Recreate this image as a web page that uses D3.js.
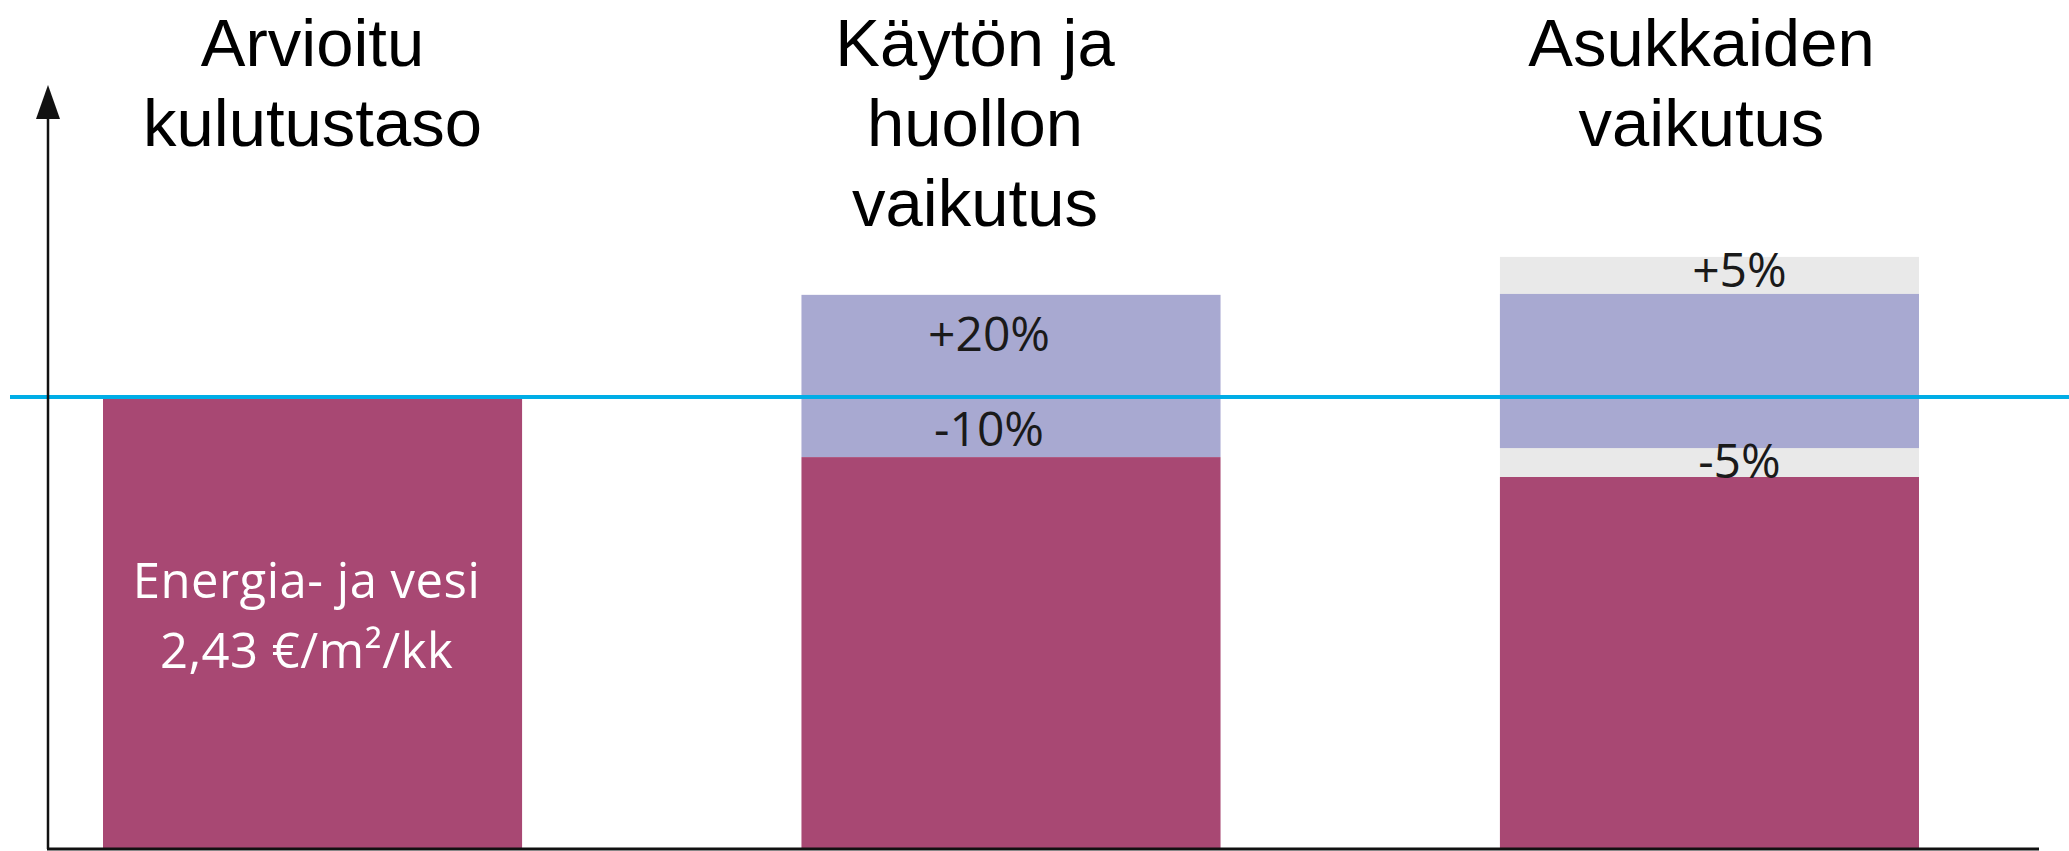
<!DOCTYPE html>
<html>
<head>
<meta charset="utf-8">
<script src="https://cdn.jsdelivr.net/npm/d3@7"></script>
<style>
    html, body {margin: 0; padding: 0; background: #fff;}
    svg {display: block;}
    .title {font-family: "Liberation Sans", Arial, sans-serif; font-size: 67px; fill: #000;}
    .pct {font-family: "Open Sans", sans-serif; font-size: 48px; fill: #1a1a1a;}
    .inner {font-family: "Open Sans", sans-serif; font-size: 49px; fill: #fff; letter-spacing: 0.5px;}
</style>
</head>
<body>
<svg id="chart" width="2069" height="851"></svg>
<script>
// categories and their title lines
const categories = ["Arvioitu kulutustaso", "Käytön ja huollon vaikutus", "Asukkaiden vaikutus"];
const titleLines = [["Arvioitu", "kulutustaso"], ["Käytön ja", "huollon", "vaikutus"], ["Asukkaiden", "vaikutus"]];

// estimated level = 100
const level = 100;
const baseValues = [100, 86.7, 82.3];          // magenta part
const rangeLow = [null, 86.7, 88.7];           // lavender range
const rangeHigh = [null, 122.6, 122.8];
const outerLow = [null, null, 82.3];           // grey range
const outerHigh = [null, null, 131.0];

// percentage labels
const labelBars = [1, 1, 2, 2];
const labelTexts = ["+20%", "-10%", "+5%", "-5%"];
const labelValues = [110.2, 89.2, 124.3, 82.1];

// text inside first bar
const innerLines = ["Energia- ja vesi", "2,43 €/m²/kk"];
const innerValues = [55.5, 40.0];

const colors = {base: "#a84873", range: "#a8a9d1", outer: "#e9e9e9", level: "#00ade6"};
// small horizontal nudges of the texts per category
const titleNudge = [0, -36, -8];
const labelNudge = [0, -22, 30];

const svg = d3.select("#chart");
const W = 2069, H = 851;
const margin = {left: 48, bottom: 2};
const baseY = H - margin.bottom;

const x = d3.scaleBand()
    .domain(categories)
    .range([103, 1919])
    .paddingInner(0.4)
    .paddingOuter(0);

const y = d3.scaleLinear()
    .domain([0, level])
    .range([baseY, 397]);

const cx = i => x(categories[i]) + x.bandwidth() / 2;

const rows = categories.map((c, i) => ({
    key: c, i,
    base: baseValues[i],
    lo: rangeLow[i], hi: rangeHigh[i],
    olo: outerLow[i], ohi: outerHigh[i]
}));

// grey outer range
svg.append("g").selectAll("rect")
    .data(rows.filter(d => d.olo != null))
    .enter().append("rect")
    .attr("x", d => x(d.key))
    .attr("width", x.bandwidth())
    .attr("y", d => y(d.ohi))
    .attr("height", d => y(d.olo) - y(d.ohi))
    .attr("fill", colors.outer);

// lavender range
svg.append("g").selectAll("rect")
    .data(rows.filter(d => d.lo != null))
    .enter().append("rect")
    .attr("x", d => x(d.key))
    .attr("width", x.bandwidth())
    .attr("y", d => y(d.hi))
    .attr("height", d => y(d.lo) - y(d.hi))
    .attr("fill", colors.range);

// magenta base bars
svg.append("g").selectAll("rect")
    .data(rows)
    .enter().append("rect")
    .attr("x", d => x(d.key))
    .attr("width", x.bandwidth())
    .attr("y", d => y(d.base))
    .attr("height", d => y(0) - y(d.base))
    .attr("fill", colors.base);

// level line
svg.append("line")
    .attr("x1", 10).attr("x2", W)
    .attr("y1", y(level)).attr("y2", y(level))
    .attr("stroke", colors.level)
    .attr("stroke-width", 4);

// percent labels
svg.append("g").selectAll("text")
    .data(labelTexts)
    .enter().append("text")
    .attr("class", "pct")
    .attr("text-anchor", "middle")
    .attr("x", (d, i) => cx(labelBars[i]) + labelNudge[labelBars[i]])
    .attr("y", (d, i) => y(labelValues[i]))
    .text(d => d);

// text inside first bar
svg.append("g").selectAll("text")
    .data(innerLines)
    .enter().append("text")
    .attr("class", "inner")
    .attr("text-anchor", "middle")
    .attr("x", cx(0) - 6)
    .attr("y", (d, i) => y(innerValues[i]))
    .text(d => d);

// titles
let titles = svg.append("g").selectAll("text")
    .data(titleLines)
    .enter().append("text")
    .attr("class", "title")
    .attr("text-anchor", "middle")
    .attr("transform", (d, i) => "translate(" + (cx(i) + titleNudge[i]) + ",66)");
titles.selectAll("tspan")
    .data(d => d)
    .enter().append("tspan")
    .attr("x", 0)
    .attr("y", (d, j) => j * 80)
    .text(d => d);

// axes
let axis = svg.append("g").attr("fill", "none").attr("stroke", "#111");
axis.append("line")
    .attr("x1", margin.left).attr("x2", margin.left)
    .attr("y1", baseY).attr("y2", 112)
    .attr("stroke-width", 2.5);
axis.append("line")
    .attr("x1", margin.left - 1).attr("x2", 2039)
    .attr("y1", baseY).attr("y2", baseY)
    .attr("stroke-width", 3);
svg.append("path")
    .attr("d", d3.line()([[margin.left, 85], [margin.left - 12, 119], [margin.left + 12, 119]]) + "Z")
    .attr("fill", "#111");
</script>
</body>
</html>
